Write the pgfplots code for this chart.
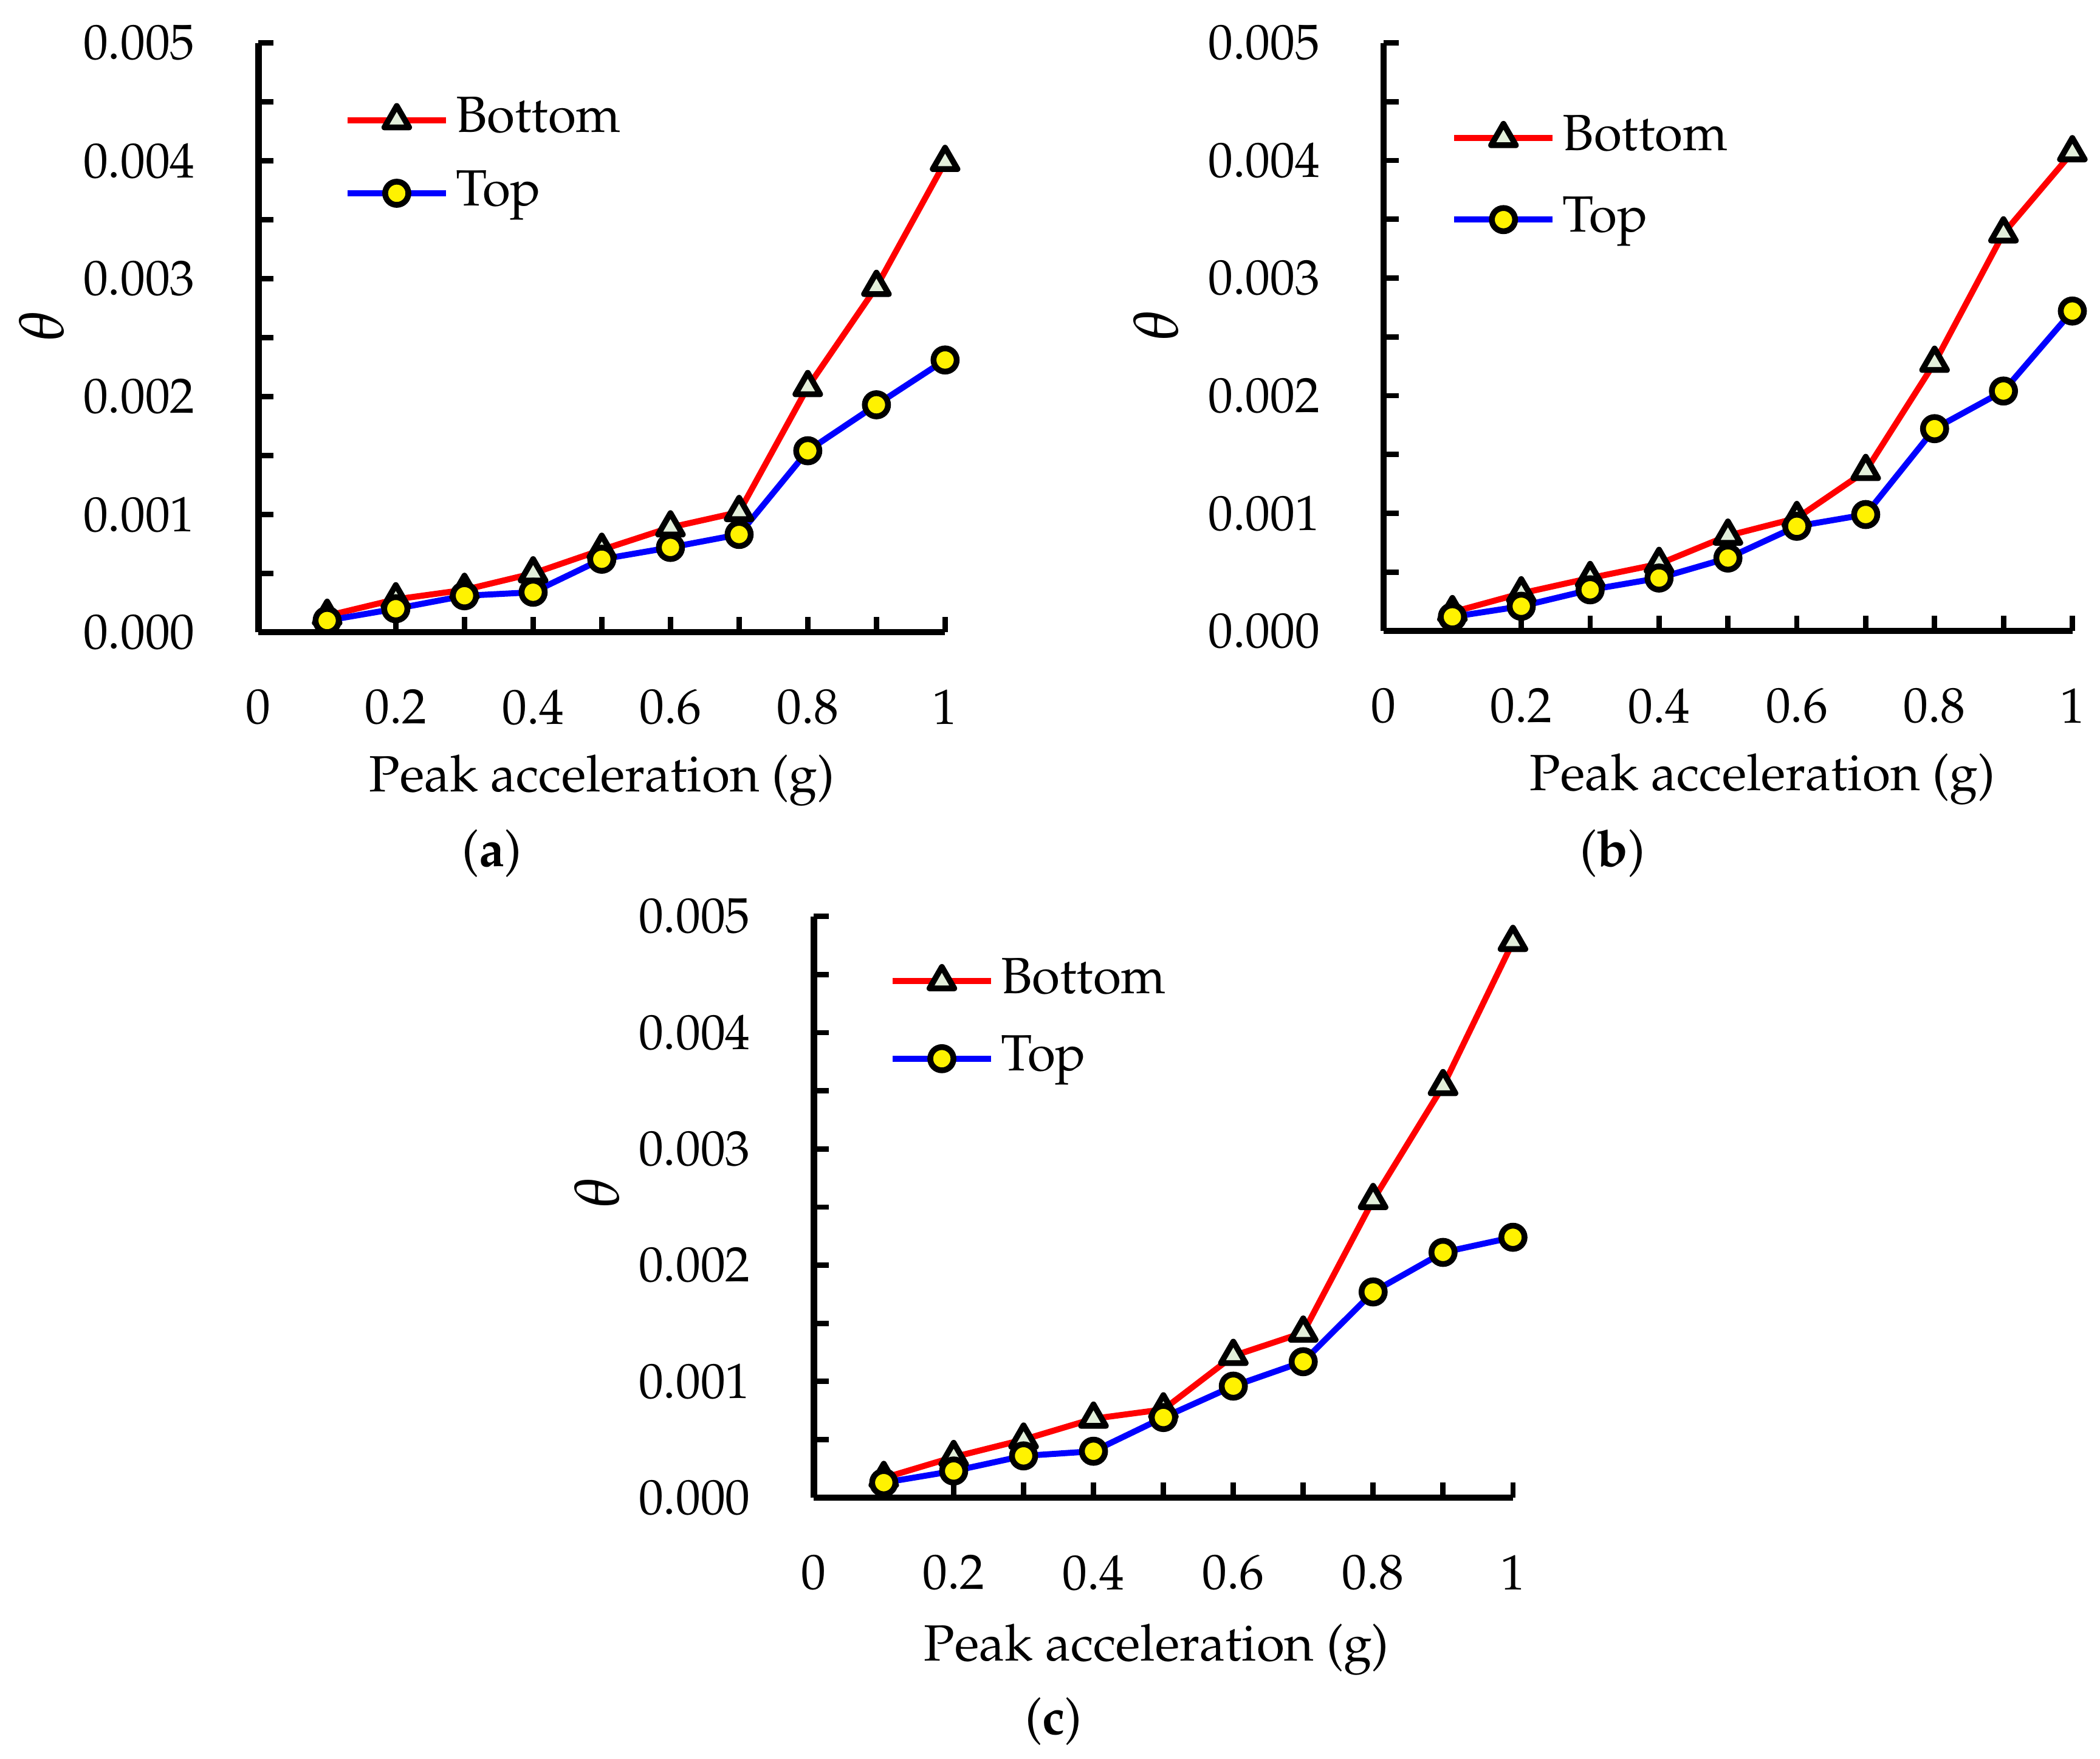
\documentclass[11pt,border=0pt]{standalone}
\usepackage[T1]{fontenc}
\usepackage{mathpazo}
\usepackage{pgfplots}
\usepackage{pgfplotstable}
\pgfplotsset{compat=1.18}
\definecolor{triFill}{RGB}{226,239,218}

\pgfplotstableread{
x bot top
0.1 0.00014 0.00010
0.2 0.00028 0.00020
0.3 0.00036 0.00031
0.4 0.00050 0.00034
0.5 0.00070 0.00062
0.6 0.00089 0.00072
0.7 0.00102 0.00083
0.8 0.00208 0.00154
0.9 0.00293 0.00193
1.0 0.00399 0.00231
}\dataA
\pgfplotstableread{
x bot top
0.1 0.00016 0.00012
0.2 0.00032 0.00021
0.3 0.00045 0.00035
0.4 0.00057 0.00045
0.5 0.00081 0.00062
0.6 0.00096 0.00089
0.7 0.00136 0.00099
0.8 0.00228 0.00172
0.9 0.00338 0.00204
1.0 0.00407 0.00272
}\dataB
\pgfplotstableread{
x bot top
0.1 0.00017 0.00013
0.2 0.00035 0.00023
0.3 0.00050 0.00036
0.4 0.00068 0.00040
0.5 0.00076 0.00069
0.6 0.00122 0.00096
0.7 0.00142 0.00117
0.8 0.00256 0.00177
0.9 0.00354 0.00211
1.0 0.00478 0.00224
}\dataC

\pgfplotsset{
  panel/.style={
    scale only axis,
    anchor=south west,
    font=\fontsize{11.4}{13.7}\selectfont,
    axis lines=left,
    axis line style={-, line width=1.4pt, black},
    tick align=inside,
    major tick length=3.4pt,
    minor tick length=3.4pt,
    every tick/.style={black, line width=1.2pt},
    xmin=0, xmax=1, ymin=0, ymax=0.005,
    xtick={0,0.2,0.4,0.6,0.8,1},
    minor xtick={0.1,0.3,0.5,0.7,0.9},
    ytick={0,0.001,0.002,0.003,0.004,0.005},
    minor ytick={0.0005,0.0015,0.0025,0.0035,0.0045},
    scaled y ticks=false,
    yticklabel={\pgfmathprintnumber[fixed,fixed zerofill,precision=3]{\tick}},
    tick label style={font=\fontsize{11.1}{13}\selectfont},
    xticklabel style={yshift=-9pt},
    yticklabel style={xshift=-10.4pt},
    clip=false,
    xlabel={Peak acceleration (g)},
    ylabel={$\theta$},
    ylabel style={font=\fontsize{14}{16}\selectfont},
    legend cell align=left,
    legend image code/.code={\draw[mark repeat=2,mark phase=2] plot coordinates {(0pt,0pt)(11pt,0pt)(22pt,0pt)};},
  },
  botplot/.style={red, line width=1.35pt, mark=triangle*, mark size=3.2pt,
    mark options={fill=triFill, draw=black, line width=1.3pt, line join=round, solid}},
  topplot/.style={blue, line width=1.35pt, mark=*, mark size=2.6pt,
    mark options={fill=yellow, draw=black, line width=1.3pt, solid}},
}

\begin{document}
\begin{tikzpicture}
\useasboundingbox (0,0) rectangle (470.4pt,393.9pt);

% (a)
\begin{axis}[panel, at={(57.9pt,252.3pt)}, width=153.8pt, height=132pt,
  xlabel style={at={(axis description cs:0.5,0)}, anchor=center, yshift=-33.2pt},
  ylabel style={at={(axis description cs:-0.316,0.52)}, anchor=center},
  legend style={draw=none, fill=none, inner sep=0pt, row sep=6.5pt, column sep=1.6pt,
    nodes={inner sep=0pt, text height=0.7em, text depth=0.2em},
    at={(axis description cs:0,0)}, anchor=north west, xshift=19.1pt, yshift=119.8pt}]
\addplot[botplot] table[x=x,y=bot]{\dataA};
\addplot[topplot] table[x=x,y=top]{\dataA};
\legend{Bottom,Top}
\node at (axis description cs:0.34,0) [yshift=-49.5pt] {(\textbf{a})};
\end{axis}

% (b)
\begin{axis}[panel, at={(309.9pt,252.6pt)}, width=154.3pt, height=131.7pt,
  xlabel style={at={(axis description cs:0.55,0)}, anchor=center, yshift=-33.2pt},
  ylabel style={at={(axis description cs:-0.33,0.52)}, anchor=center},
  legend style={draw=none, fill=none, inner sep=0pt, row sep=8.4pt, column sep=1.6pt,
    nodes={inner sep=0pt, text height=0.7em, text depth=0.2em},
    at={(axis description cs:0,0)}, anchor=north west, xshift=15pt, yshift=115.5pt}]
\addplot[botplot] table[x=x,y=bot]{\dataB};
\addplot[topplot] table[x=x,y=top]{\dataB};
\legend{Bottom,Top}
\node at (axis description cs:0.333,0) [yshift=-49.8pt] {(\textbf{b})};
\end{axis}

% (c)
\begin{axis}[panel, at={(182.3pt,58.5pt)}, width=156.6pt, height=130.2pt,
  xlabel style={at={(axis description cs:0.49,0)}, anchor=center, yshift=-34pt},
  ylabel style={at={(axis description cs:-0.31,0.525)}, anchor=center},
  legend style={draw=none, fill=none, inner sep=0pt, row sep=7.5pt, column sep=1.6pt,
    nodes={inner sep=0pt, text height=0.7em, text depth=0.2em},
    at={(axis description cs:0,0)}, anchor=north west, xshift=16.8pt, yshift=120.8pt}]
\addplot[botplot] table[x=x,y=bot]{\dataC};
\addplot[topplot] table[x=x,y=top]{\dataC};
\legend{Bottom,Top}
\node at (axis description cs:0.343,0) [yshift=-50pt] {(\textbf{c})};
\end{axis}
\end{tikzpicture}
\end{document}
